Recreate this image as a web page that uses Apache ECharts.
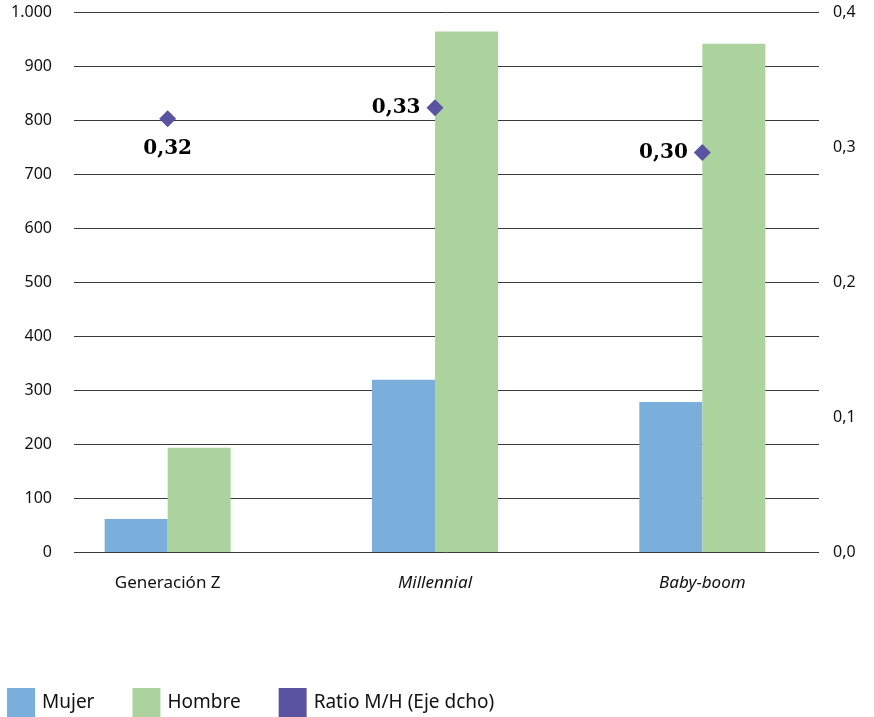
<!DOCTYPE html>
<html>
<head>
<meta charset="utf-8">
<script src="https://cdn.jsdelivr.net/npm/echarts@6/dist/echarts.min.js"></script>
<style>html,body{margin:0;padding:0;background:#fff}#c{width:874px;height:717px}</style>
</head>
<body>
<div id="c"></div>
<script>
const categories = ['Generación Z', 'Millennial', 'Baby-boom'];
const mujer = [61, 319, 278];
const hombre = [193, 964, 941];
const ratio = [0.321, 0.329, 0.296];
const ratioLabels = ['0,32', '0,33', '0,30'];
const seriesNames = ['Mujer', 'Hombre', 'Ratio M/H (Eje dcho)'];

const labelPos = ['bottom', 'left', 'left'];
const chart = echarts.init(document.getElementById('c'), null, {renderer: 'canvas'});
const font = 'Noto Sans';
chart.setOption({
  animation: false,
  backgroundColor: '#fff',
  grid: [
    {left: 74, right: 55, top: 12, bottom: 165},
    {left: 34, right: 38, top: 12, bottom: 165}
  ],
  legend: {
    left: 7, top: 688, padding: 0, itemWidth: 28, itemHeight: 29, itemGap: 38,
    icon: 'rect',
    data: seriesNames,
    textStyle: {fontFamily: font, fontSize: 19, color: '#111', padding: [0, 0, 0, 2]}
  },
  xAxis: [
    {gridIndex: 0, type: 'category', data: categories, show: false},
    {gridIndex: 1, type: 'category', data: categories,
     axisLine: {show: false}, axisTick: {show: false},
     axisLabel: {margin: 23, fontFamily: font, fontSize: 17, color: '#111',
       formatter: function (v, i) { return i === 0 ? '{n|' + v + '}' : '{i|' + v + '}'; },
       rich: {n: {fontFamily: font, fontSize: 17, color: '#111'},
              i: {fontFamily: font, fontSize: 17, color: '#111', fontStyle: 'italic'}}}}
  ],
  yAxis: [
    {gridIndex: 0, type: 'value', min: 0, max: 1000, interval: 100,
     axisLine: {show: false}, axisTick: {show: false},
     axisLabel: {margin: 22, fontFamily: font, fontSize: 16, color: '#111',
       formatter: function (v) { return v >= 1000 ? (v / 1000) + '.' + String(v % 1000).padStart(3, '0') : String(v); }},
     splitLine: {lineStyle: {color: '#3a3a3a', width: 1}}},
    {gridIndex: 0, type: 'value', position: 'right', min: 0, max: 0.4, interval: 0.1,
     axisLine: {show: false}, axisTick: {show: false}, splitLine: {show: false},
     axisLabel: {margin: 14, fontFamily: font, fontSize: 16, color: '#111',
       formatter: function (v) { return v.toFixed(1).replace('.', ','); }}},
    {gridIndex: 1, type: 'value', min: 0, max: 1000, show: false, splitLine: {show: false}},
    {gridIndex: 1, type: 'value', min: 0, max: 0.4, show: false, splitLine: {show: false}}
  ],
  series: [
    {name: seriesNames[0], type: 'bar', xAxisIndex: 1, yAxisIndex: 2, data: mujer,
     barWidth: 63, barGap: '0%', itemStyle: {color: '#7aaedb'}},
    {name: seriesNames[1], type: 'bar', xAxisIndex: 1, yAxisIndex: 2, data: hombre,
     barWidth: 63, barGap: '0%', itemStyle: {color: '#acd39d'}},
    {name: seriesNames[2], type: 'scatter', xAxisIndex: 1, yAxisIndex: 3,
     symbol: 'diamond', symbolSize: 17, itemStyle: {color: '#5a539f', opacity: 1},
     data: ratio.map(function (v, i) {
       return {value: v, label: {show: true, position: labelPos[i], distance: i === 0 ? 12 : 6,
         formatter: ratioLabels[i], fontFamily: 'DejaVu Serif', fontWeight: 'bold', fontSize: 20, color: '#000'}};
     })}
  ]
});
</script>
</body>
</html>
